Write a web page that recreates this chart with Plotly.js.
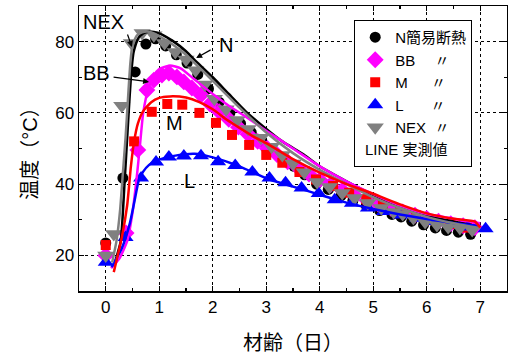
<!DOCTYPE html>
<html><head><meta charset="utf-8">
<script src="https://cdn.plot.ly/plotly-3.0.1.min.js"></script>
<style>html,body{margin:0;padding:0;background:#fff;}#chart{width:508px;height:356px;}</style>
</head><body><div id="chart"></div>
<script>
// ---- marker series (simulation) ----
const nX   = [0, 0.32, 0.55, 0.75, 0.93, 1.12, 1.32, 1.52, 1.72, 1.92, 2.12, 2.32, 2.52, 2.72, 2.92, 3.12, 3.32, 3.52, 3.72, 3.94, 4.16, 4.4, 4.62, 4.87, 5.12, 5.35, 5.52, 5.72, 5.94, 6.16, 6.37, 6.59, 6.82];
const nY   = [23.5, 41.7, 71.5, 79.3, 80.8, 78.8, 76.3, 74, 70.8, 66.8, 63, 60, 57, 54.5, 52, 49.5, 47.5, 45, 42.6, 40, 38.5, 36.8, 35.4, 34, 32.6, 31.5, 30.8, 29.6, 28.6, 27.7, 27, 26.5, 25.9];
const bbX  = [0, 0.38, 0.6, 0.77, 0.9, 1.05, 1.18, 1.33, 1.46, 1.61, 1.78, 1.95, 2.12, 2.3, 2.48, 2.66, 2.84, 3.02, 3.2, 3.4, 3.6, 3.8, 4.0, 4.2, 4.42, 4.65, 4.88, 5.1, 5.33, 5.55, 5.78, 6.0, 6.22, 6.45, 6.68, 6.9];
const bbY  = [20, 26.3, 49.6, 66.4, 69.2, 70.6, 71.2, 70.1, 68.7, 67, 65, 62.5, 60.3, 58.2, 56, 54, 52, 50, 48.3, 46.3, 44.5, 42.8, 41.2, 39.8, 38.3, 36.8, 35.5, 34.3, 33.2, 32.2, 31.3, 30.4, 29.6, 28.9, 28.3, 27.8];
const mX   = [0, 0.53, 0.86, 1.15, 1.43, 1.75, 2.06, 2.36, 2.68, 3.0, 3.3, 3.62, 3.93, 4.25, 4.55, 4.87, 5.18, 5.5, 5.8, 6.12, 6.43, 6.75];
const mY   = [22.9, 52, 60.3, 62.5, 62.3, 60, 57.2, 53.8, 51, 48.2, 46, 43.4, 41.3, 39.5, 37.6, 35.8, 34.1, 32.6, 31.2, 29.9, 28.8, 27.8];
const lX   = [0, 0.37, 0.66, 0.94, 1.18, 1.46, 1.78, 2.1, 2.42, 2.74, 3.06, 3.36, 3.66, 3.98, 4.28, 4.6, 4.9, 5.2, 5.5, 5.82, 6.13, 6.45, 6.77, 7.1];
const lY   = [18.1, 25, 41.7, 46.2, 47.6, 47.9, 48, 46.3, 45.2, 43.4, 41.7, 40.4, 38.9, 37.4, 35.6, 34.6, 33.3, 32.3, 31.3, 30.4, 29.5, 28.7, 28, 27.5];
const nexX = [0, 0.15, 0.3, 0.48, 0.68, 0.9, 1.1, 1.3, 1.5, 1.68, 1.85, 2.03, 2.25, 2.46, 2.66, 2.9, 3.1, 3.3, 3.5, 3.71, 3.95, 4.18, 4.42, 4.65, 4.9, 5.15, 5.38, 5.55, 5.75, 5.97, 6.19, 6.4, 6.62, 6.85];
const nexY = [20, 26, 62, 79.6, 82.4, 81.8, 79.6, 77.1, 75, 72, 68, 64, 61, 58, 55.5, 53, 50.5, 48.2, 45.8, 43.3, 40.6, 39.2, 37.5, 36.1, 34.7, 33.3, 32.2, 31.6, 30.5, 29.4, 28.5, 28, 27.7, 27.1];

// ---- line series (measured) ----
const nLineX   = [0.15, 0.28, 0.35, 0.42, 0.47, 0.52, 0.6, 0.7, 0.8, 0.9, 1.0, 1.25, 1.5, 1.65, 2.0, 2.3, 2.63, 3.0, 3.3, 3.7, 4.0, 4.5, 5.0, 5.5, 6.0, 6.5, 7.0];
const nLineY   = [17, 24, 40, 58, 70, 77, 80.8, 82.3, 82.8, 82.7, 82.3, 80.2, 77.3, 75, 70, 65.3, 60.2, 55.5, 52, 48.3, 45, 40.8, 37, 33.8, 31.2, 29.5, 28];
const bbLineX  = [0.1, 0.25, 0.4, 0.5, 0.58, 0.64, 0.7, 0.8, 0.9, 1.0, 1.2, 1.4, 1.65, 2.0, 2.3, 2.63, 3.0, 3.5, 4.0, 4.5, 5.0, 5.5, 6.0, 6.5, 7.0];
const bbLineY  = [16.4, 19, 24, 32, 42, 51, 60, 67, 70.5, 72.3, 73.3, 72.5, 69.5, 65.3, 62, 58.8, 55, 50, 45, 40.8, 37.2, 34, 31.6, 30.3, 29];
const mLineX   = [0.15, 0.3, 0.4, 0.47, 0.53, 0.6, 0.7, 0.85, 1.0, 1.25, 1.5, 1.75, 2.0, 2.27, 2.5, 2.78, 3.0, 3.5, 4.0, 4.5, 5.0, 5.5, 6.0, 6.5, 6.9, 7.0];
const mLineY   = [15.3, 25, 34, 45, 52, 57, 60.5, 63, 64.2, 64.7, 64.3, 63, 61, 58, 55.8, 53.2, 51.5, 47, 43.2, 40, 37.3, 34.3, 31.8, 30.3, 29.5, 27.8];
const lLineX   = [0.11, 0.3, 0.45, 0.53, 0.62, 0.7, 0.81, 0.95, 1.09, 1.3, 1.66, 2.0, 2.5, 3.02, 3.5, 3.71, 4.0, 4.5, 5.0, 5.5, 6.0, 6.5, 7.0];
const lLineY   = [16.7, 22, 29, 34.7, 41.2, 43.5, 45.4, 46.6, 47.3, 48, 48.5, 47.5, 45, 41.5, 39.3, 38.4, 37, 34.8, 33, 31.5, 30.2, 29.1, 28.2];
const nexLineX = [0.12, 0.2, 0.27, 0.32, 0.37, 0.42, 0.46, 0.5, 0.58, 0.68, 0.8, 0.9, 1.0, 1.25, 1.5, 2.0, 2.5, 3.0, 3.5, 4.0, 4.5, 5.0, 5.5, 6.0, 6.5, 7.0];
const nexLineY = [18, 24, 33, 43, 53, 65, 74, 79, 81.7, 82.6, 82.8, 82.3, 81.5, 79.2, 76.3, 69, 61.5, 54.5, 48.7, 44, 40, 36.3, 33.3, 30.8, 29, 27.6];

// ---- texts ----
const legendNames = ['N簡易断熱', 'BB\u3000\u00a0〃', 'M\u3000\u00a0\u00a0〃', 'L\u3000\u00a0\u00a0\u00a0〃', 'NEX\u00a0\u00a0〃'];
const lineLegendText = 'LINE 実測値';
const xTitle = '材齢（日）';
const yTitle = '温度（°C）';
const labels = [
  {t: 'NEX', x: -0.04, y: 85.5},
  {t: 'N',   x: 2.25,  y: 79.1},
  {t: 'BB',  x: -0.17, y: 71.2},
  {t: 'M',   x: 1.28,  y: 57.2},
  {t: 'L',   x: 1.56,  y: 40.9}
];
const arrows = [
  {x: 0.49, y: 78.5, ax: -5, ay: -14},
  {x: 1.69, y: 75.4, ax: 16, ay: -9},
  {x: 0.81, y: 68.7, ax: -37, ay: -5}
];

const FONT = 'Liberation Sans, Arial, Noto Sans CJK JP, sans-serif';
const colors = {N: '#000000', BB: '#ff00ff', M: '#ff0000', L: '#0000ff', NEX: '#808080'};
const lineOpts = c => ({color: c, width: 2.5, shape: 'spline', smoothing: 0.5});

const traces = [
  {x: nX, y: nY, mode: 'markers', name: legendNames[0], marker: {symbol: 'circle', size: 11, color: colors.N}},
  {x: bbX, y: bbY, mode: 'markers', name: legendNames[1], marker: {symbol: 'diamond', size: 13, color: colors.BB}},
  {x: mX, y: mY, mode: 'markers', name: legendNames[2], marker: {symbol: 'square', size: 10, color: colors.M}},
  {x: lX, y: lY, mode: 'markers', name: legendNames[3], marker: {symbol: 'triangle-up', size: 14, color: colors.L}},
  {x: nexX, y: nexY, mode: 'markers', name: legendNames[4], marker: {symbol: 'triangle-down', size: 15, color: colors.NEX}},
  {x: [null], y: [null], mode: 'markers', name: '\u00a0', marker: {color: 'rgba(0,0,0,0)', line: {width: 0}}, hoverinfo: 'skip'},
  {x: nLineX, y: nLineY, mode: 'lines', line: lineOpts(colors.N), showlegend: false},
  {x: bbLineX, y: bbLineY, mode: 'lines', line: lineOpts(colors.BB), showlegend: false},
  {x: lLineX, y: lLineY, mode: 'lines', line: lineOpts(colors.L), showlegend: false},
  {x: nexLineX, y: nexLineY, mode: 'lines', line: lineOpts(colors.NEX), showlegend: false},
  {x: mLineX, y: mLineY, mode: 'lines', line: lineOpts(colors.M), showlegend: false}
];

const annotations = labels.map(l => ({x: l.x, y: l.y, xref: 'x', yref: 'y', text: l.t, showarrow: false, font: {family: FONT, size: 20, color: '#000'}}));
arrows.forEach(a => annotations.push({x: a.x, y: a.y, xref: 'x', yref: 'y', ax: a.ax, ay: a.ay, text: '', showarrow: true, arrowhead: 2, arrowsize: 1, arrowwidth: 1.2, arrowcolor: '#000'}));

const axisCommon = {
  showline: true, linecolor: '#000', linewidth: 1.5, mirror: 'ticks',
  ticks: 'inside', ticklen: 5, tickwidth: 1.2, tickcolor: '#000',
  showgrid: true, gridcolor: '#000', gridwidth: 1, griddash: 'dot',
  zeroline: false, tickfont: {family: FONT, size: 17, color: '#000'}
};

const layout = {
  width: 508, height: 356,
  margin: {l: 79, r: 1, t: 6, b: 65},
  paper_bgcolor: '#fff', plot_bgcolor: '#fff',
  font: {family: FONT, color: '#000'},
  showlegend: true,
  legend: {x: 0.643, y: 0.951, xanchor: 'left', yanchor: 'top', bgcolor: '#fff', bordercolor: '#000', borderwidth: 1,
           font: {family: FONT, size: 15, color: '#000'}, tracegroupgap: 0},
  xaxis: Object.assign({}, axisCommon, {range: [-0.5, 7.5], dtick: 1, tick0: 0,
    minor: {dtick: 0.5, ticks: 'inside', ticklen: 3, tickcolor: '#000', showgrid: false},
    title: {text: xTitle, font: {family: FONT, size: 20, color: '#000'}, standoff: 20}}),
  yaxis: Object.assign({}, axisCommon, {range: [10, 90], dtick: 20, tick0: 0,
    minor: {dtick: 10, ticks: 'inside', ticklen: 3, tickcolor: '#000', showgrid: false},
    title: {text: yTitle, font: {family: FONT, size: 20, color: '#000'}, standoff: 12}}),
  annotations: annotations
};

Plotly.newPlot('chart', traces, layout, {staticPlot: true, displayModeBar: false}).then(gd => {
  // place the "LINE 実測値" row text inside the legend's last (blank) row
  const items = gd.querySelectorAll('.legend .traces');
  const lg = gd.querySelector('.legend');
  if (items.length >= 6 && lg) {
    const last = items[5].getBoundingClientRect();
    const gdr = gd.getBoundingClientRect();
    const lgr = lg.getBoundingClientRect();
    const px = lgr.left - gdr.left + 8;
    const py = last.top + last.height / 2 - gdr.top;
    const fl = gd._fullLayout;
    Plotly.relayout(gd, {annotations: annotations.concat([{
      xref: 'paper', yref: 'paper',
      x: (px - fl.margin.l) / fl._size.w, y: 1 - (py - fl.margin.t) / fl._size.h,
      text: lineLegendText, showarrow: false, xanchor: 'left', yanchor: 'middle',
      font: {family: FONT, size: 15, color: '#000'}
    }])});
  }
});
</script></body></html>
